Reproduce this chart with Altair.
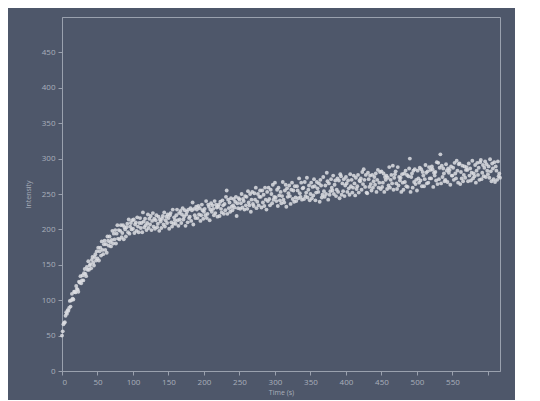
import altair as alt
import pandas as pd

time_s = [
    0, 1, 2, 3, 4, 5, 6, 7, 8, 9,
    10, 11, 12, 13, 14, 15, 16, 17, 18, 19,
    20, 21, 22, 23, 24, 25, 26, 27, 28, 29,
    30, 31, 32, 33, 34, 35, 36, 37, 38, 39,
    40, 41, 42, 43, 44, 45, 46, 47, 48, 49,
    50, 51, 52, 53, 54, 55, 56, 57, 58, 59,
    60, 61, 62, 63, 64, 65, 66, 67, 68, 69,
    70, 71, 72, 73, 74, 75, 76, 77, 78, 79,
    80, 81, 82, 83, 84, 85, 86, 87, 88, 89,
    90, 91, 92, 93, 94, 95, 96, 97, 98, 99,
    100, 101, 102, 103, 104, 105, 106, 107, 108, 109,
    110, 111, 112, 113, 114, 115, 116, 117, 118, 119,
    120, 121, 122, 123, 124, 125, 126, 127, 128, 129,
    130, 131, 132, 133, 134, 135, 136, 137, 138, 139,
    140, 141, 142, 143, 144, 145, 146, 147, 148, 149,
    150, 151, 152, 153, 154, 155, 156, 157, 158, 159,
    160, 161, 162, 163, 164, 165, 166, 167, 168, 169,
    170, 171, 172, 173, 174, 175, 176, 177, 178, 179,
    180, 181, 182, 183, 184, 185, 186, 187, 188, 189,
    190, 191, 192, 193, 194, 195, 196, 197, 198, 199,
    200, 201, 202, 203, 204, 205, 206, 207, 208, 209,
    210, 211, 212, 213, 214, 215, 216, 217, 218, 219,
    220, 221, 222, 223, 224, 225, 226, 227, 228, 229,
    230, 231, 232, 233, 234, 235, 236, 237, 238, 239,
    240, 241, 242, 243, 244, 245, 246, 247, 248, 249,
    250, 251, 252, 253, 254, 255, 256, 257, 258, 259,
    260, 261, 262, 263, 264, 265, 266, 267, 268, 269,
    270, 271, 272, 273, 274, 275, 276, 277, 278, 279,
    280, 281, 282, 283, 284, 285, 286, 287, 288, 289,
    290, 291, 292, 293, 294, 295, 296, 297, 298, 299,
    300, 301, 302, 303, 304, 305, 306, 307, 308, 309,
    310, 311, 312, 313, 314, 315, 316, 317, 318, 319,
    320, 321, 322, 323, 324, 325, 326, 327, 328, 329,
    330, 331, 332, 333, 334, 335, 336, 337, 338, 339,
    340, 341, 342, 343, 344, 345, 346, 347, 348, 349,
    350, 351, 352, 353, 354, 355, 356, 357, 358, 359,
    360, 361, 362, 363, 364, 365, 366, 367, 368, 369,
    370, 371, 372, 373, 374, 375, 376, 377, 378, 379,
    380, 381, 382, 383, 384, 385, 386, 387, 388, 389,
    390, 391, 392, 393, 394, 395, 396, 397, 398, 399,
    400, 401, 402, 403, 404, 405, 406, 407, 408, 409,
    410, 411, 412, 413, 414, 415, 416, 417, 418, 419,
    420, 421, 422, 423, 424, 425, 426, 427, 428, 429,
    430, 431, 432, 433, 434, 435, 436, 437, 438, 439,
    440, 441, 442, 443, 444, 445, 446, 447, 448, 449,
    450, 451, 452, 453, 454, 455, 456, 457, 458, 459,
    460, 461, 462, 463, 464, 465, 466, 467, 468, 469,
    470, 471, 472, 473, 474, 475, 476, 477, 478, 479,
    480, 481, 482, 483, 484, 485, 486, 487, 488, 489,
    490, 491, 492, 493, 494, 495, 496, 497, 498, 499,
    500, 501, 502, 503, 504, 505, 506, 507, 508, 509,
    510, 511, 512, 513, 514, 515, 516, 517, 518, 519,
    520, 521, 522, 523, 524, 525, 526, 527, 528, 529,
    530, 531, 532, 533, 534, 535, 536, 537, 538, 539,
    540, 541, 542, 543, 544, 545, 546, 547, 548, 549,
    550, 551, 552, 553, 554, 555, 556, 557, 558, 559,
    560, 561, 562, 563, 564, 565, 566, 567, 568, 569,
    570, 571, 572, 573, 574, 575, 576, 577, 578, 579,
    580, 581, 582, 583, 584, 585, 586, 587, 588, 589,
    590, 591, 592, 593, 594, 595, 596, 597, 598, 599,
    600, 601, 602, 603, 604, 605, 606, 607, 608, 609,
    610, 611, 612, 613, 614, 615, 616, 617,
]

intensity = [
    50, 56, 66, 68, 69, 78, 83, 81, 86, 85,
    89, 99, 91, 100, 109, 102, 101, 112, 112, 111,
    120, 116, 115, 112, 126, 125, 134, 124, 128, 135,
    128, 138, 144, 137, 134, 147, 143, 155, 143, 149,
    151, 145, 157, 161, 153, 149, 161, 165, 156, 169,
    159, 174, 156, 169, 174, 163, 183, 171, 165, 179,
    184, 171, 179, 167, 190, 184, 177, 190, 182, 176,
    185, 198, 180, 194, 186, 199, 180, 194, 206, 187,
    199, 186, 198, 206, 189, 195, 206, 186, 203, 200,
    190, 203, 208, 196, 214, 194, 204, 209, 200, 213,
    201, 214, 195, 207, 210, 198, 217, 204, 196, 209,
    216, 202, 209, 196, 224, 211, 203, 215, 206, 199,
    209, 221, 202, 215, 207, 219, 199, 212, 223, 204,
    215, 201, 213, 220, 203, 208, 218, 198, 214, 211,
    202, 215, 219, 207, 224, 204, 213, 218, 209, 221,
    216, 201, 220, 223, 210, 204, 228, 208, 217, 213,
    208, 220, 228, 213, 205, 223, 214, 226, 209, 221,
    230, 214, 218, 227, 205, 221, 225, 210, 228, 216,
    218, 230, 212, 227, 238, 207, 229, 220, 216, 232,
    228, 216, 233, 221, 230, 212, 220, 235, 227, 215,
    225, 229, 220, 240, 216, 222, 235, 232, 213, 228,
    237, 225, 234, 229, 220, 240, 223, 235, 231, 218,
    232, 235, 219, 239, 229, 224, 241, 234, 222, 236,
    227, 246, 255, 222, 242, 230, 238, 225, 244, 232,
    227, 234, 243, 231, 239, 246, 219, 237, 230, 244,
    242, 229, 237, 250, 231, 243, 240, 228, 247, 234,
    246, 229, 254, 238, 234, 250, 225, 242, 253, 236,
    233, 251, 242, 259, 230, 239, 250, 234, 246, 255,
    246, 231, 255, 238, 249, 233, 259, 242, 228, 253,
    240, 259, 243, 234, 256, 250, 237, 263, 242, 246,
    266, 245, 240, 256, 233, 259, 248, 241, 253, 237,
    247, 267, 242, 238, 255, 263, 232, 258, 246, 251,
    262, 247, 236, 256, 266, 243, 255, 239, 261, 245,
    240, 261, 255, 244, 272, 251, 246, 266, 242, 258,
    259, 243, 267, 247, 252, 273, 245, 256, 262, 241,
    250, 266, 244, 260, 248, 271, 261, 241, 252, 267,
    258, 253, 265, 239, 270, 262, 245, 249, 274, 254,
    246, 262, 250, 280, 268, 242, 265, 249, 254, 271,
    259, 255, 276, 250, 263, 269, 247, 256, 272, 253,
    269, 244, 278, 275, 249, 265, 254, 271, 247, 262,
    274, 265, 253, 269, 258, 249, 278, 261, 270, 252,
    259, 276, 265, 248, 273, 257, 261, 277, 252, 269,
    268, 272, 256, 281, 264, 285, 270, 260, 277, 252,
    251, 280, 271, 260, 276, 264, 255, 277, 259, 268,
    274, 263, 279, 253, 270, 284, 259, 266, 281, 257,
    282, 260, 266, 279, 253, 274, 270, 276, 257, 273,
    262, 288, 259, 270, 277, 265, 290, 256, 273, 278,
    282, 265, 257, 288, 262, 274, 269, 273, 253, 278,
    266, 256, 279, 267, 283, 261, 277, 260, 275, 286,
    300, 253, 274, 279, 259, 283, 267, 285, 264, 270,
    255, 283, 272, 266, 287, 269, 285, 261, 281, 276,
    261, 271, 291, 280, 265, 282, 266, 288, 272, 284,
    272, 289, 285, 260, 280, 276, 281, 269, 295, 264,
    294, 271, 287, 306, 265, 290, 274, 286, 279, 268,
    270, 292, 283, 267, 286, 280, 284, 263, 289, 276,
    276, 287, 270, 294, 279, 272, 297, 283, 266, 292,
    293, 264, 281, 272, 290, 268, 277, 289, 273, 284,
    288, 284, 268, 293, 276, 286, 269, 280, 297, 272,
    279, 275, 291, 266, 283, 294, 277, 287, 270, 295,
    298, 271, 280, 291, 275, 287, 296, 274, 292, 283,
    278, 289, 273, 299, 282, 268, 293, 286, 271, 295,
    267, 289, 283, 270, 296, 275, 279, 273,
]

x_ticks = [0, 50, 100, 150, 200, 250, 300, 350, 400, 450, 500, 550, 600]
y_ticks = [0, 50, 100, 150, 200, 250, 300, 350, 400, 450]

df = pd.DataFrame({"Time (s)": time_s, "Intensity": intensity})

BG = "#4e576a"
AXIS = "#9aa1ae"
TEXT = "#a9afbb"
FONT = "Open Sans"

chart = (
    alt.Chart(df)
    .mark_circle(size=15, color="#dcdde2", opacity=0.85)
    .encode(
        x=alt.X(
            "Time (s):Q",
            scale=alt.Scale(domain=[0, 617], nice=False, zero=False),
            axis=alt.Axis(
                values=x_ticks,
                labelExpr="datum.value == 600 ? '' : datum.label",
                title="Time (s)",
                titlePadding=2,
            ),
        ),
        y=alt.Y(
            "Intensity:Q",
            scale=alt.Scale(domain=[0, 500], nice=False),
            axis=alt.Axis(values=y_ticks, title="Intensity", titlePadding=10),
        ),
    )
    .properties(
        width=438,
        height=354,
        autosize=alt.AutoSizeParams(type="none"),
        padding={"left": 54, "top": 9, "right": 15, "bottom": 29},
        background=BG,
    )
    .configure_view(stroke=AXIS, strokeWidth=1)
    .configure_axis(
        grid=False,
        domainColor=AXIS,
        tickColor=AXIS,
        tickSize=4,
        labelColor=TEXT,
        labelFont=FONT,
        labelFontSize=8,
        labelPadding=3,
        titleColor=TEXT,
        titleFont=FONT,
        titleFontSize=7,
        titleFontWeight="normal",
    )
)

chart.save("out.html", embed_options={"renderer": "svg", "actions": False})
